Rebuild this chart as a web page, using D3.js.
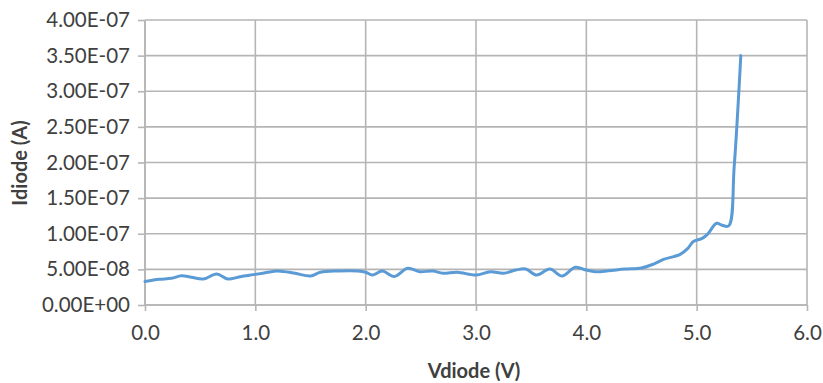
<!DOCTYPE html>
<html>
<head>
<meta charset="utf-8">
<script src="https://cdn.jsdelivr.net/npm/d3@7"></script>
<style>
  html, body { margin: 0; padding: 0; background: #fff; }
  svg { display: block; }
  text { font-family: Lato, "Open Sans", sans-serif; fill: #404040; }
</style>
</head>
<body>
<svg id="chart" width="823" height="383"></svg>
<script>
// Data
const vdiode = [0.00, 0.13, 0.24, 0.33, 0.42, 0.53, 0.65, 0.75, 0.86, 1.00,
  1.10, 1.20, 1.36, 1.50, 1.59, 1.75, 1.93, 2.00, 2.06, 2.15,
  2.26, 2.38, 2.49, 2.61, 2.70, 2.83, 3.00, 3.13, 3.25, 3.36,
  3.45, 3.55, 3.67, 3.78, 3.90, 4.00, 4.08, 4.20, 4.35, 4.50,
  4.61, 4.70, 4.85, 4.92, 4.97, 5.05, 5.10, 5.18, 5.23, 5.29, 5.34, 5.40];
const idiode = [3.30e-8, 3.60e-8, 3.75e-8, 4.10e-8, 3.90e-8, 3.65e-8, 4.35e-8, 3.65e-8, 3.97e-8, 4.30e-8,
  4.55e-8, 4.77e-8, 4.45e-8, 4.07e-8, 4.60e-8, 4.77e-8, 4.77e-8, 4.60e-8, 4.20e-8, 4.77e-8,
  4.00e-8, 5.15e-8, 4.67e-8, 4.77e-8, 4.45e-8, 4.60e-8, 4.20e-8, 4.67e-8, 4.45e-8, 4.90e-8,
  5.05e-8, 4.20e-8, 5.05e-8, 4.07e-8, 5.30e-8, 4.90e-8, 4.67e-8, 4.80e-8, 5.05e-8, 5.20e-8,
  5.75e-8, 6.40e-8, 7.10e-8, 7.95e-8, 8.90e-8, 9.35e-8, 9.95e-8, 1.147e-7, 1.12e-7, 1.11e-7, 1.94e-7, 3.50e-7];
const xTicks = [0, 1, 2, 3, 4, 5, 6];
const yTicks = [0, 0.5e-7, 1.0e-7, 1.5e-7, 2.0e-7, 2.5e-7, 3.0e-7, 3.5e-7, 4.0e-7];
const xTitle = "Vdiode (V)";
const yTitle = "Idiode (A)";

(function () {
const svg = d3.select("#chart");
const pL = 145, pR = 807, pT = 20, pB = 305;

const x = d3.scaleLinear().domain([0, 6]).range([pL, pR]);
const y = d3.scaleLinear().domain([0, 4e-7]).range([pB, pT]);

const gridColor = "#b5b5b5";

// gridlines
svg.append("g").selectAll("line").data(yTicks).join("line")
  .attr("x1", pL).attr("x2", pR)
  .attr("y1", d => y(d)).attr("y2", d => y(d))
  .attr("stroke", gridColor).attr("stroke-width", 1.6);
svg.append("g").selectAll("line").data(xTicks).join("line")
  .attr("x1", d => x(d)).attr("x2", d => x(d))
  .attr("y1", pT).attr("y2", pB)
  .attr("stroke", gridColor).attr("stroke-width", 1.6);

// axes
const fmtY = d => {
  const s = d3.format(".2e")(d);
  const [m, e] = s.split("e");
  const sign = e[0] === "-" ? "-" : "+";
  const ex = Math.abs(+e).toString().padStart(2, "0");
  return m + "E" + sign + ex;
};

const yAxis = d3.axisLeft(y).tickValues(yTicks).tickFormat(fmtY).tickSize(7).tickPadding(8);
const gy = svg.append("g").attr("transform", `translate(${pL},0)`).call(yAxis);
const xAxis = d3.axisBottom(x).tickValues(xTicks).tickFormat(d3.format(".1f")).tickSize(6).tickPadding(14);
const gx = svg.append("g").attr("transform", `translate(0,${pB})`).call(xAxis);

[gx, gy].forEach(g => {
  g.select(".domain").attr("stroke", gridColor).attr("stroke-width", 1.6);
  g.selectAll(".tick line").attr("stroke", gridColor).attr("stroke-width", 1.6);
  g.selectAll(".tick text").style("font-family", "Lato, 'Open Sans', sans-serif")
    .style("font-size", "20.5px").attr("fill", "#404040");
});
gy.select(".domain").attr("d", `M0,${pT}V${pB}`);
gx.select(".domain").attr("d", `M${pL},0H${pR}`);

// line
const line = d3.line()
  .x((d, i) => x(vdiode[i]))
  .y((d, i) => y(idiode[i]))
  .curve(d3.curveCatmullRom.alpha(0.5));

svg.append("path")
  .datum(idiode)
  .attr("d", line)
  .attr("fill", "none")
  .attr("stroke", "#5b9bd5")
  .attr("stroke-width", 3)
  .attr("stroke-linejoin", "round")
  .attr("stroke-linecap", "round");

// axis titles
svg.append("text")
  .attr("x", x(3) - 2).attr("y", 378)
  .attr("text-anchor", "middle")
  .style("font-size", "20px").style("font-weight", "bold")
  .text(xTitle);

svg.append("text")
  .attr("transform", `translate(27,163) rotate(-90)`)
  .attr("text-anchor", "middle")
  .style("font-size", "20px").style("font-weight", "bold")
  .text(yTitle);
})();
</script>
</body>
</html>
